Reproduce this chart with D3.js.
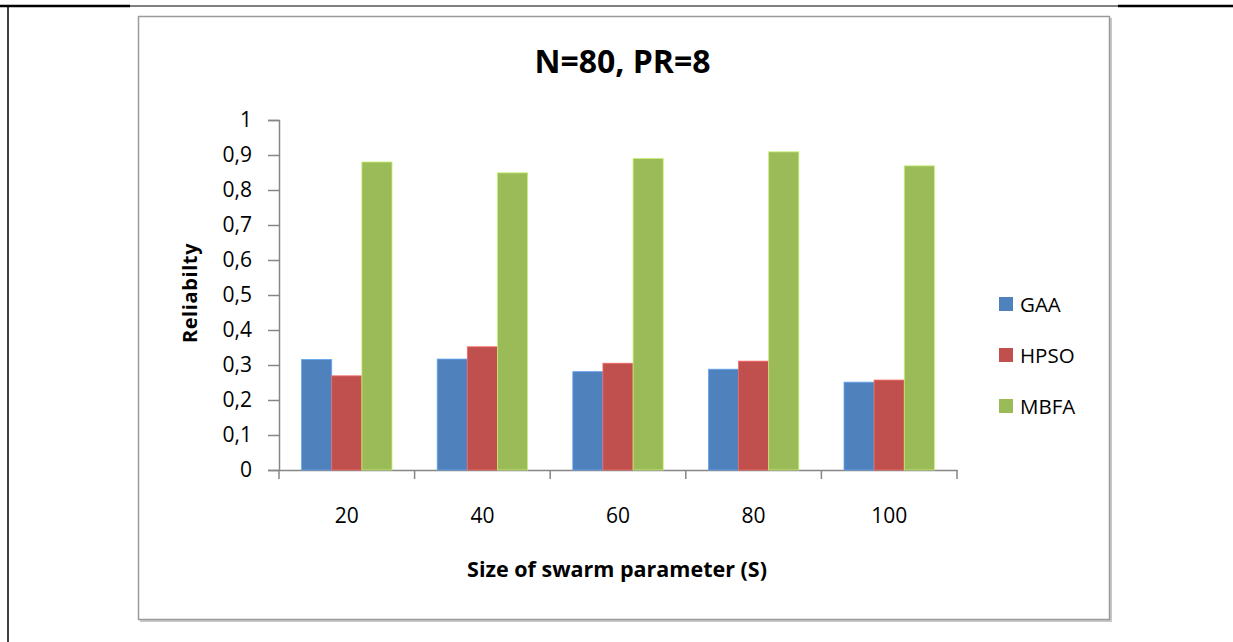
<!DOCTYPE html>
<html><head><meta charset="utf-8">
<script src="https://cdn.jsdelivr.net/npm/d3@7"></script>
<style>body{margin:0;background:#fff}svg{display:block}</style>
</head><body>
<script>
const categories = ["20","40","60","80","100"];
const seriesNames = ["GAA","HPSO","MBFA"];
const GAA  = [0.316,0.317,0.281,0.288,0.251];
const HPSO = [0.269,0.352,0.305,0.311,0.257];
const MBFA = [0.880,0.849,0.890,0.909,0.869];
const yTicks = [0,0.1,0.2,0.3,0.4,0.5,0.6,0.7,0.8,0.9,1];
const colors = ["#4F81BD","#C0504D","#9BBB59"];
const seriesValues = [GAA,HPSO,MBFA];

const W=1233,H=642;
const svg=d3.select("body").append("svg").attr("width",W).attr("height",H);

// page lines
svg.append("line").attr("x1",0).attr("x2",130).attr("y1",6).attr("y2",6).attr("stroke","#000").attr("stroke-width",2.5);
svg.append("line").attr("x1",130).attr("x2",1118).attr("y1",6).attr("y2",6).attr("stroke","#000").attr("stroke-width",1);
svg.append("line").attr("x1",1118).attr("x2",1233).attr("y1",6).attr("y2",6).attr("stroke","#000").attr("stroke-width",2.5);
svg.append("line").attr("x1",8).attr("x2",8).attr("y1",5).attr("y2",642).attr("stroke","#000").attr("stroke-width",1.5);

// chart box with shadow
svg.append("rect").attr("x",140).attr("y",18).attr("width",972).attr("height",604).attr("fill","#c8c8c8");
svg.append("rect").attr("x",138.5).attr("y",16.5).attr("width",971).attr("height",603).attr("fill","#fff").attr("stroke","#9a9a9a").attr("stroke-width",1.5);

const font="'Open Sans', 'DejaVu Sans', sans-serif";
const x0=d3.scaleBand().domain(categories).range([279,957]).paddingInner(0.3333).paddingOuter(0.16667);
const x1=d3.scaleBand().domain(seriesNames).range([0,x0.bandwidth()]);
const xOuter=d3.scaleBand().domain(categories).range([279,957]);
const y=d3.scaleLinear().domain([0,1]).range([470,120]);

// y axis
const ya=svg.append("g").attr("transform","translate(279,0)")
  .call(d3.axisLeft(y).tickValues(yTicks).tickSize(11).tickPadding(16).tickFormat(d=>d3.format("")(d).replace(".",",")));
ya.select(".domain").attr("stroke","#868686").attr("stroke-width",1.5);
ya.selectAll(".tick line").attr("stroke","#868686").attr("stroke-width",1.5);
ya.selectAll("text").attr("font-family",font).attr("font-size",21).attr("fill","#000");

// x axis
const xa=svg.append("g").attr("transform","translate(0,470)")
  .call(d3.axisBottom(xOuter).tickSize(0).tickPadding(38));
xa.select(".domain").attr("stroke","#868686").attr("stroke-width",1.5);
xa.selectAll("text").attr("font-family",font).attr("font-size",21).attr("fill","#000");
const bounds=[279].concat(categories.map(c=>xOuter(c)+xOuter.bandwidth()));
svg.append("g").selectAll("line").data(bounds).join("line")
  .attr("x1",d=>d).attr("x2",d=>d).attr("y1",470).attr("y2",479).attr("stroke","#868686").attr("stroke-width",1.5);

// bars
const g=svg.append("g");
categories.forEach((c,i)=>{
  seriesNames.forEach((s,j)=>{
    const v=seriesValues[j][i];
    g.append("rect").attr("x",x0(c)+x1(s)).attr("y",y(v)).attr("width",x1.bandwidth()).attr("height",y(0)-y(v))
      .attr("fill",colors[j]).attr("stroke",d3.color(colors[j]).brighter(0.7)).attr("stroke-width",0.8);
  });
});

// title
svg.append("text").attr("x",622.5).attr("y",73).attr("text-anchor","middle").attr("font-family",font)
  .attr("font-weight","bold").attr("font-size",32).text("N=80, PR=8");
// axis titles
svg.append("text").attr("transform","translate(197,293) rotate(-90)").attr("text-anchor","middle").attr("font-family",font)
  .attr("font-weight","bold").attr("font-size",20).attr("letter-spacing",0.6).text("Reliabilty");
svg.append("text").attr("x",617).attr("y",577).attr("text-anchor","middle").attr("font-family",font)
  .attr("font-weight","bold").attr("font-size",21.5).text("Size of swarm parameter (S)");

// legend
const leg=svg.append("g");
seriesNames.forEach((s,j)=>{
  const cy=304+j*51;
  leg.append("rect").attr("x",999).attr("y",cy-7).attr("width",14).attr("height",14).attr("fill",colors[j]);
  leg.append("text").attr("x",1020).attr("y",cy+8).attr("font-family",font).attr("font-size",20.5).text(s);
});
</script>
</body></html>
